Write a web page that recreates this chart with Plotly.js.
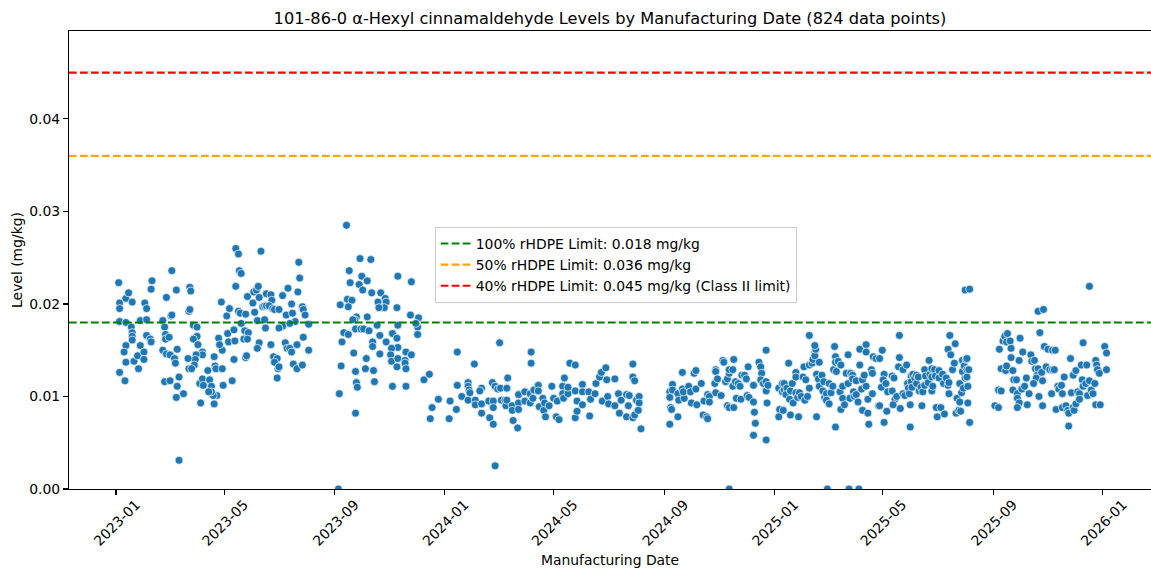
<!DOCTYPE html>
<html>
<head>
<meta charset="utf-8">
<script src="https://cdn.plot.ly/plotly-3.0.1.min.js"></script>
<style>html,body{margin:0;padding:0;background:#fff;}#chart{width:1151px;height:572px;}</style>
</head>
<body>
<div id="chart"></div>
<script>
// ---- Data ----
// Period 1: Jan - Aug 2023
const dates1 = ["2023-01-04","2023-01-05","2023-01-05","2023-01-12","2023-01-15","2023-01-19","2023-01-05","2023-01-12","2023-01-18","2023-01-19","2023-01-19","2023-01-19","2023-01-12","2023-01-10","2023-01-12","2023-01-05","2023-01-11","2023-01-21","2023-01-26","2023-01-25","2023-01-28","2023-02-01","2023-02-01","2023-01-28","2023-02-02","2023-02-04","2023-02-04","2023-02-04","2023-02-08","2023-02-09","2023-02-10","2023-02-09","2023-03-04","2023-03-09","2023-02-26","2023-02-22","2023-02-24","2023-02-25","2023-02-25","2023-03-01","2023-03-03","2023-03-04","2023-02-22","2023-02-26","2023-03-02","2023-03-10","2023-03-07","2023-03-08","2023-02-24","2023-03-02","2023-03-12","2023-03-10","2023-03-09","2023-03-17","2023-03-12","2023-03-24","2023-03-25","2023-03-23","2023-03-24","2023-03-28","2023-04-01","2023-04-01","2023-03-28","2023-04-02","2023-04-07","2023-04-07","2023-03-31","2023-03-30","2023-03-29","2023-03-23","2023-03-22","2023-03-26","2023-04-04","2023-04-07","2023-04-08","2023-04-13","2023-04-15","2023-04-17","2023-04-20","2023-04-21","2023-04-22","2023-04-23","2023-04-19","2023-04-05","2023-04-20","2023-04-17","2023-04-14","2023-04-29","2023-04-30","2023-04-28","2023-05-07","2023-05-04","2023-04-25","2023-04-29","2023-04-26","2023-05-05","2023-05-06","2023-05-12","2023-05-13","2023-05-12","2023-05-10","2023-05-14","2023-05-17","2023-05-18","2023-05-20","2023-06-11","2023-05-14","2023-05-17","2023-05-19","2023-05-20","2023-05-25","2023-05-24","2023-05-23","2023-05-28","2023-05-27","2023-05-25","2023-05-26","2023-05-27","2023-06-02","2023-06-03","2023-06-06","2023-06-08","2023-06-09","2023-06-04","2023-06-13","2023-06-15","2023-06-17","2023-06-17","2023-06-22","2023-06-23","2023-06-20","2023-06-24","2023-06-26","2023-07-01","2023-07-05","2023-07-09","2023-07-11","2023-06-07","2023-06-15","2023-06-16","2023-06-09","2023-06-07","2023-06-22","2023-06-25","2023-06-29","2023-06-26","2023-06-30","2023-07-01","2023-06-29","2023-07-08","2023-07-05","2023-07-01","2023-07-10","2023-07-23","2023-07-24","2023-07-15","2023-07-22","2023-07-16","2023-07-19","2023-07-13","2023-07-27","2023-07-28","2023-07-30","2023-08-03","2023-07-28","2023-07-13","2023-07-15","2023-07-21","2023-08-03","2023-07-17","2023-07-21","2023-07-27"];
const levels1 = [0.0223,0.0201,0.0195,0.0206,0.0212,0.0202,0.0181,0.0180,0.0175,0.0169,0.0165,0.0161,0.0155,0.0148,0.0137,0.0126,0.0117,0.0138,0.0130,0.0144,0.0155,0.0148,0.0140,0.0182,0.0201,0.0195,0.0183,0.0166,0.0162,0.0159,0.0225,0.0216,0.0236,0.0215,0.0207,0.0182,0.0175,0.0167,0.0162,0.0164,0.0187,0.0188,0.0150,0.0146,0.0145,0.0151,0.0141,0.0136,0.0116,0.0117,0.0121,0.0111,0.0099,0.0103,0.0031,0.0218,0.0214,0.0192,0.0194,0.0177,0.0175,0.0165,0.0162,0.0156,0.0148,0.0145,0.0145,0.0140,0.0134,0.0130,0.0141,0.0130,0.0114,0.0119,0.0112,0.0128,0.0118,0.0111,0.0143,0.0133,0.0130,0.0101,0.0101,0.0093,0.0092,0.0105,0.0105,0.0130,0.0112,0.0202,0.0195,0.0187,0.0163,0.0150,0.0156,0.0168,0.0159,0.0172,0.0160,0.0140,0.0117,0.0260,0.0254,0.0236,0.0233,0.0257,0.0219,0.0192,0.0190,0.0179,0.0189,0.0171,0.0162,0.0169,0.0162,0.0142,0.0144,0.0208,0.0201,0.0213,0.0215,0.0219,0.0207,0.0191,0.0197,0.0198,0.0198,0.0211,0.0210,0.0204,0.0198,0.0195,0.0194,0.0194,0.0209,0.0188,0.0217,0.0182,0.0183,0.0174,0.0158,0.0152,0.0156,0.0143,0.0141,0.0137,0.0130,0.0132,0.0120,0.0158,0.0176,0.0174,0.0152,0.0245,0.0228,0.0200,0.0213,0.0190,0.0181,0.0179,0.0197,0.0194,0.0188,0.0178,0.0164,0.0152,0.0148,0.0156,0.0150,0.0135,0.0130,0.0134];

// Period 2: Sep - early Dec 2023
const dates2 = ["2023-09-05","2023-09-14","2023-09-29","2023-10-11","2023-09-17","2023-09-18","2023-10-01","2023-10-07","2023-09-28","2023-10-02","2023-10-12","2023-09-15","2023-09-20","2023-09-07","2023-09-16","2023-09-25","2023-09-23","2023-10-07","2023-09-24","2023-09-30","2023-10-03","2023-10-09","2023-09-21","2023-09-11","2023-09-16","2023-09-09","2023-09-22","2023-10-06","2023-09-08","2023-09-24","2023-10-05","2023-10-14","2023-10-15","2023-09-25","2023-09-26","2023-09-06","2023-09-24","2023-11-04","2023-11-19","2023-11-10","2023-11-25","2023-10-22","2023-10-27","2023-10-19","2023-10-28","2023-10-26","2023-11-09","2023-10-20","2023-10-18","2023-11-10","2023-10-21","2023-10-28","2023-11-04","2023-11-09","2023-11-10","2023-11-03","2023-11-02","2023-11-03","2023-11-10","2023-10-13","2023-10-13","2023-10-21","2023-11-19","2023-11-25","2023-11-18","2023-11-18","2023-11-19","2023-11-09","2023-11-24","2023-12-03","2023-12-02","2023-12-02","2023-11-30"];
const levels2 = [0.0,0.0285,0.0249,0.0248,0.0236,0.0223,0.0230,0.0225,0.0221,0.0215,0.0212,0.0205,0.0204,0.0199,0.0197,0.0186,0.0183,0.0186,0.0173,0.0173,0.0173,0.0171,0.0183,0.0169,0.0167,0.0159,0.0147,0.0141,0.0133,0.0127,0.0130,0.0128,0.0116,0.0115,0.0110,0.0103,0.0082,0.0111,0.0111,0.0230,0.0224,0.0212,0.0206,0.0202,0.0202,0.0196,0.0196,0.0196,0.0177,0.0177,0.0166,0.0159,0.0168,0.0163,0.0153,0.0152,0.0145,0.0138,0.0141,0.0159,0.0154,0.0146,0.0148,0.0145,0.0139,0.0136,0.0130,0.0132,0.0188,0.0185,0.0175,0.0167,0.0179];

// Period 3: Dec 2023 - Aug 2024
const dates3 = ["2023-12-09","2023-12-15","2023-12-18","2023-12-16","2023-12-25","2024-01-06","2024-01-07","2024-01-14","2024-01-15","2024-01-15","2024-01-20","2024-01-27","2024-01-27","2024-01-27","2024-01-28","2024-01-29","2024-02-03","2024-02-04","2024-02-04","2024-02-11","2024-02-09","2024-02-11","2024-02-11","2024-02-19","2024-02-20","2024-02-23","2024-02-24","2024-02-24","2024-02-24","2024-02-26","2024-02-26","2024-02-29","2024-03-02","2024-03-03","2024-03-04","2024-03-08","2024-03-09","2024-03-10","2024-03-11","2024-03-10","2024-03-16","2024-03-16","2024-03-17","2024-03-22","2024-03-23","2024-03-23","2024-03-23","2024-03-30","2024-03-30","2024-04-06","2024-04-06","2024-04-05","2024-04-05","2024-04-08","2024-04-09","2024-04-14","2024-04-14","2024-04-15","2024-04-19","2024-04-20","2024-04-22","2024-04-21","2024-04-26","2024-04-29","2024-05-01","2024-05-04","2024-05-05","2024-05-07","2024-05-11","2024-05-11","2024-05-13","2024-05-12","2024-05-17","2024-05-17","2024-05-19","2024-05-25","2024-05-25","2024-05-25","2024-05-27","2024-05-27","2024-06-02","2024-06-02","2024-06-02","2024-06-09","2024-06-10","2024-06-11","2024-06-16","2024-06-17","2024-06-21","2024-06-23","2024-06-24","2024-06-28","2024-06-29","2024-06-30","2024-07-01","2024-07-08","2024-07-08","2024-07-12","2024-07-13","2024-07-15","2024-07-21","2024-07-21","2024-07-23","2024-07-24","2024-07-28","2024-07-28","2024-07-30","2024-07-28","2024-07-30","2024-08-01","2024-08-04","2024-08-04","2024-08-03","2024-08-06"];
const levels3 = [0.0118,0.0124,0.0088,0.0076,0.0097,0.0076,0.0095,0.0086,0.0148,0.0112,0.0100,0.0115,0.0111,0.0096,0.0107,0.0104,0.0135,0.0096,0.0091,0.0109,0.0106,0.0092,0.0082,0.0095,0.0077,0.0115,0.0095,0.0088,0.0070,0.0111,0.0025,0.0108,0.0158,0.0109,0.0096,0.0096,0.0090,0.0109,0.0120,0.0096,0.0090,0.0085,0.0074,0.0066,0.0093,0.0086,0.0102,0.0105,0.0095,0.0148,0.0136,0.0103,0.0093,0.0098,0.0107,0.0112,0.0106,0.0089,0.0098,0.0085,0.0078,0.0093,0.0090,0.0111,0.0098,0.0078,0.0095,0.0075,0.0111,0.0103,0.0120,0.0098,0.0103,0.0110,0.0136,0.0106,0.0134,0.0077,0.0095,0.0084,0.0113,0.0105,0.0091,0.0105,0.0079,0.0097,0.0103,0.0114,0.0121,0.0126,0.0095,0.0131,0.0118,0.0100,0.0092,0.0119,0.0090,0.0103,0.0082,0.0096,0.0102,0.0078,0.0090,0.0101,0.0135,0.0121,0.0117,0.0077,0.0080,0.0096,0.0100,0.0093,0.0085,0.0065];

// Period 4: Sep 2024 - Aug 2025
const dates4 = ["2024-09-07","2024-09-07","2024-09-10","2024-09-10","2024-09-08","2024-09-09","2024-09-07","2024-09-16","2024-09-16","2024-09-17","2024-09-21","2024-09-21","2024-09-23","2024-09-22","2024-09-28","2024-09-30","2024-10-01","2024-10-04","2024-10-06","2024-10-06","2024-10-07","2024-10-12","2024-10-14","2024-10-18","2024-10-19","2024-10-15","2024-10-19","2024-10-21","2024-10-21","2024-10-28","2024-10-28","2024-10-28","2024-10-27","2024-10-30","2024-11-03","2024-11-05","2024-11-06","2024-11-08","2024-11-10","2024-11-12","2024-11-12","2024-11-10","2024-11-12","2024-11-17","2024-11-16","2024-11-17","2024-11-19","2024-11-16","2024-11-20","2024-11-22","2024-11-24","2024-11-25","2024-11-26","2024-11-29","2024-12-01","2024-12-03","2024-12-02","2024-12-04","2024-12-09","2024-12-09","2024-12-10","2024-12-11","2024-12-09","2024-12-15","2024-12-17","2024-12-18","2024-12-17","2024-12-20","2024-12-23","2024-12-23","2024-12-23","2024-12-25","2024-12-24","2024-12-23","2024-11-12",
"2025-01-06","2025-01-07","2025-01-06","2025-01-10","2025-01-10","2025-01-12","2025-01-11","2025-01-12","2025-01-15","2025-01-14","2025-01-17","2025-01-18","2025-01-19","2025-01-19","2025-01-21","2025-01-22","2025-01-25","2025-01-25","2025-01-25","2025-01-27","2025-01-28","2025-01-29","2025-01-31","2025-02-02","2025-02-03","2025-02-04","2025-02-05","2025-02-07","2025-02-09","2025-02-09","2025-02-09","2025-02-12","2025-02-13","2025-02-15","2025-02-15","2025-02-16","2025-02-15","2025-02-17","2025-02-17","2025-02-20","2025-02-19","2025-02-20","2025-02-23","2025-02-25","2025-02-24","2025-02-26","2025-02-28","2025-02-28","2025-03-01","2025-03-03","2025-03-03","2025-03-05","2025-03-07","2025-03-09","2025-03-10","2025-03-08","2025-03-10","2025-03-11","2025-03-10","2025-03-13","2025-03-15","2025-03-16","2025-03-18","2025-03-18","2025-03-16","2025-03-20","2025-03-24","2025-03-22","2025-03-24","2025-03-25","2025-03-26","2025-03-27","2025-03-29","2025-03-29","2025-03-30","2025-03-31","2025-04-02","2025-04-02","2025-04-04","2025-04-05","2025-04-06","2025-04-06","2025-04-08","2025-04-09","2025-04-09","2025-04-11","2025-04-13","2025-04-13","2025-04-13","2025-04-15","2025-04-15","2025-04-16","2025-04-19","2025-04-20","2025-04-20","2025-04-21","2025-04-24","2025-04-27",
"2025-05-01","2025-04-28","2025-05-03","2025-05-02","2025-04-30","2025-04-28","2025-05-06","2025-05-03","2025-05-05","2025-05-07","2025-05-12","2025-05-14","2025-05-12","2025-05-15","2025-05-13","2025-05-17","2025-05-19","2025-05-20","2025-05-20","2025-05-21","2025-05-24","2025-05-24","2025-05-26","2025-05-28","2025-05-29","2025-05-30","2025-05-31","2025-06-02","2025-06-02","2025-06-01","2025-06-01","2025-06-03","2025-06-04","2025-06-06","2025-06-08","2025-06-08","2025-06-10","2025-06-11","2025-06-13","2025-06-14","2025-06-17","2025-06-18","2025-06-15","2025-06-17","2025-06-21","2025-06-22","2025-06-23","2025-06-25","2025-06-25","2025-06-25","2025-06-26","2025-06-28","2025-06-29","2025-06-30","2025-07-01","2025-07-03","2025-07-03","2025-07-05","2025-07-07","2025-07-08","2025-07-09","2025-07-11","2025-07-13","2025-07-14","2025-07-14","2025-07-13","2025-07-15","2025-07-16","2025-07-18","2025-07-20","2025-07-21","2025-07-22","2025-07-23","2025-07-25","2025-07-26","2025-07-26","2025-07-27","2025-07-28","2025-07-29","2025-07-29","2025-07-30","2025-07-31","2025-08-01","2025-08-02","2025-08-03","2025-08-03","2025-08-03","2025-08-04","2025-08-05","2025-08-04","2025-08-06","2025-08-01","2025-08-06"];
const levels4 = [0.0105,0.0099,0.0113,0.0107,0.0088,0.0086,0.0070,0.0078,0.0103,0.0096,0.0126,0.0108,0.0098,0.0105,0.0111,0.0105,0.0093,0.0125,0.0128,0.0108,0.0091,0.0114,0.0080,0.0078,0.0076,0.0095,0.0102,0.0100,0.0094,0.0129,0.0127,0.0104,0.0114,0.0119,0.0101,0.0139,0.0137,0.0116,0.0119,0.0125,0.0129,0.0090,0.0088,0.0088,0.0111,0.0140,0.0116,0.0129,0.0098,0.0114,0.0111,0.0097,0.0123,0.0123,0.0119,0.0132,0.0101,0.0099,0.0112,0.0094,0.0083,0.0071,0.0058,0.0137,0.0132,0.0125,0.0118,0.0114,0.0150,0.0116,0.0106,0.0112,0.0093,0.0053,0.0,
0.0109,0.0086,0.0078,0.0114,0.0105,0.0107,0.0085,0.0114,0.0109,0.0102,0.0136,0.0097,0.0106,0.0080,0.0114,0.0093,0.0126,0.0121,0.0104,0.0099,0.0078,0.0104,0.0100,0.0121,0.0132,0.0096,0.0118,0.0100,0.0134,0.0109,0.0166,0.0136,0.0140,0.0147,0.0144,0.0151,0.0155,0.0124,0.0078,0.0137,0.0119,0.0111,0.0123,0.0116,0.0106,0.0099,0.0103,0.0096,0.0,0.0114,0.0092,0.0104,0.0111,0.0154,0.0143,0.0129,0.0137,0.0127,0.0067,0.0138,0.0105,0.0134,0.0111,0.0098,0.0086,0.0091,0.0145,0.0125,0.0114,0.0,0.0098,0.0125,0.0123,0.0119,0.0105,0.0100,0.0102,0.0117,0.0094,0.0,0.0151,0.0134,0.0108,0.0085,0.0118,0.0123,0.0156,0.0148,0.0111,0.0097,0.0082,0.0070,0.0129,0.0125,0.0103,0.0143,0.0141,0.0090,
0.0150,0.0141,0.0124,0.0118,0.0110,0.0090,0.0084,0.0072,0.0114,0.0105,0.0122,0.0120,0.0106,0.0097,0.0091,0.0100,0.0132,0.0166,0.0142,0.0087,0.0129,0.0103,0.0101,0.0134,0.0114,0.0109,0.0103,0.0122,0.0116,0.0091,0.0067,0.0110,0.0124,0.0120,0.0123,0.0114,0.0121,0.0106,0.0110,0.0090,0.0129,0.0122,0.0105,0.0112,0.0115,0.0139,0.0124,0.0130,0.0121,0.0106,0.0111,0.0129,0.0122,0.0088,0.0078,0.0128,0.0120,0.0088,0.0124,0.0114,0.0081,0.0120,0.0112,0.0115,0.0103,0.0151,0.0166,0.0145,0.0129,0.0136,0.0157,0.0082,0.0098,0.0085,0.0114,0.0094,0.0084,0.0104,0.0139,0.0127,0.0109,0.0133,0.0120,0.0140,0.0141,0.0129,0.0121,0.0093,0.0129,0.0111,0.0072,0.0215,0.0216];

// Period 5: Sep 2025 - Jan 2026
const dates5 = ["2025-09-03","2025-09-07","2025-09-08","2025-09-07","2025-09-10","2025-09-12","2025-09-14","2025-09-16","2025-09-17","2025-09-20","2025-09-21","2025-09-21","2025-09-10","2025-09-15","2025-09-16","2025-09-23","2025-09-24","2025-09-27","2025-09-23","2025-09-28","2025-09-28","2025-09-30","2025-09-28","2025-10-01","2025-09-30","2025-10-04","2025-10-03","2025-10-06","2025-10-08","2025-10-09","2025-10-11","2025-10-13","2025-10-14","2025-10-17","2025-10-18","2025-10-21","2025-10-20","2025-10-19","2025-10-16","2025-10-22","2025-10-23","2025-10-25","2025-10-26","2025-10-26","2025-10-28","2025-10-30","2025-11-01","2025-11-03","2025-11-05","2025-11-06","2025-11-06","2025-11-08","2025-11-09","2025-11-10","2025-11-12","2025-11-13","2025-11-16","2025-11-17","2025-11-17","2025-11-19","2025-11-21","2025-11-23","2025-11-24","2025-11-24","2025-11-26","2025-11-27","2025-11-29","2025-11-30","2025-11-29","2025-12-02","2025-12-02","2025-12-04","2025-12-06","2025-12-06","2025-12-08","2025-12-09","2025-12-10","2025-12-10","2025-12-13","2025-12-14","2025-12-15","2025-12-17","2025-12-17","2025-12-19","2025-12-21","2025-12-23","2025-12-24","2025-12-24","2025-12-25","2025-12-26","2025-12-29","2025-12-28","2026-01-03","2026-01-05","2026-01-05","2025-10-21","2025-10-27"];
const levels5 = [0.0090,0.0088,0.0151,0.0107,0.0106,0.0160,0.0165,0.0159,0.0168,0.0160,0.0152,0.0142,0.0130,0.0128,0.0133,0.0128,0.0118,0.0118,0.0107,0.0103,0.0098,0.0093,0.0088,0.0163,0.0139,0.0148,0.0108,0.0111,0.0120,0.0091,0.0103,0.0145,0.0138,0.0139,0.0130,0.0130,0.0123,0.0120,0.0114,0.0100,0.0169,0.0126,0.0117,0.0090,0.0154,0.0132,0.0151,0.0129,0.0103,0.0129,0.0150,0.0129,0.0150,0.0086,0.0111,0.0108,0.0112,0.0103,0.0088,0.0121,0.0090,0.0085,0.0082,0.0068,0.0141,0.0104,0.0088,0.0085,0.0123,0.0128,0.0092,0.0105,0.0103,0.0097,0.0134,0.0118,0.0158,0.0111,0.0114,0.0134,0.0101,0.0117,0.0219,0.0107,0.0103,0.0114,0.0139,0.0091,0.0134,0.0129,0.0091,0.0125,0.0154,0.0147,0.0129,0.0192,0.0194];

// Limits
const limitValues = [0.018, 0.036, 0.045];
const limitNames = ["100% rHDPE Limit: 0.018 mg/kg", "50% rHDPE Limit: 0.036 mg/kg", "40% rHDPE Limit: 0.045 mg/kg (Class II limit)"];
const limitColors = ["#008000", "#ffa500", "#ff0000"];

// Axis ticks
const xTickVals = ["2023-01-01","2023-05-01","2023-09-01","2024-01-01","2024-05-01","2024-09-01","2025-01-01","2025-05-01","2025-09-01","2026-01-01"];
const xTickText = ["2023-01","2023-05","2023-09","2024-01","2024-05","2024-09","2025-01","2025-05","2025-09","2026-01"];
const yTickVals = [0, 0.01, 0.02, 0.03, 0.04];
const yTickText = ["0.00","0.01","0.02","0.03","0.04"];
const xRange = ["2022-11-09 19:30", "2026-02-23 09:30"];
const yRange = [0, 0.0495];

// ---- Build chart ----
const allDates = dates1.concat(dates2, dates3, dates4, dates5);
const allLevels = levels1.concat(levels2, levels3, levels4, levels5);

const FONT = "DejaVu Sans, Verdana, sans-serif";
const traces = [{
  type: "scatter", mode: "markers", x: allDates, y: allLevels, showlegend: false,
  marker: {color: "#1f77b4", size: 8, line: {color: "#ffffff", width: 0.7}},
  hoverinfo: "x+y", cliponaxis: true
}];
limitValues.forEach((v, i) => {
  traces.push({
    type: "scatter", mode: "lines", x: xRange, y: [v, v], name: limitNames[i],
    line: {color: limitColors[i], width: 2.1, dash: "7.7px,3.3px"}, hoverinfo: "name"
  });
});

const layout = {
  width: 1151, height: 572,
  margin: {l: 69, r: 0, t: 31, b: 83},
  paper_bgcolor: "#ffffff", plot_bgcolor: "#ffffff",
  font: {family: FONT, size: 13.9, color: "#000000"},
  title: {text: "101-86-0 α-Hexyl cinnamaldehyde Levels by Manufacturing Date (824 data points)",
          font: {family: FONT, size: 16.2, color: "#000000"},
          x: 0.5, xref: "paper", xanchor: "center", y: 1 - 18/572, yref: "container", yanchor: "middle"},
  xaxis: {
    type: "date", range: xRange, tickmode: "array", tickvals: xTickVals, ticktext: xTickText,
    tickangle: -45, ticklabelshift: 20, ticklabelstandoff: -4, ticks: "outside", ticklen: 5, tickwidth: 1.1, tickcolor: "#000",
    showline: true, linecolor: "#000", linewidth: 1.1, mirror: true, showgrid: false, zeroline: false,
    tickfont: {family: FONT, size: 13.9, color: "#000"},
    title: {text: "Manufacturing Date", font: {family: FONT, size: 13.9, color: "#000"}, standoff: 7},
    automargin: false
  },
  yaxis: {
    range: yRange, tickmode: "array", tickvals: yTickVals, ticktext: yTickText,
    ticks: "outside", ticklen: 5, tickwidth: 1.1, tickcolor: "#000",
    showline: true, linecolor: "#000", linewidth: 1.1, mirror: false, showgrid: false, zeroline: false,
    tickfont: {family: FONT, size: 13.9, color: "#000"},
    title: {text: "Level (mg/kg)", font: {family: FONT, size: 13.9, color: "#000"}, standoff: 3},
    automargin: false
  },
  legend: {
    x: 0.338, y: 0.572, xanchor: "left", yanchor: "top",
    bgcolor: "rgba(255,255,255,0.8)", bordercolor: "#cccccc", borderwidth: 1,
    font: {family: FONT, size: 13.9, color: "#000"}
  },
  showlegend: true
};

Plotly.newPlot("chart", traces, layout, {displayModeBar: false, staticPlot: true});
</script>
</body>
</html>
